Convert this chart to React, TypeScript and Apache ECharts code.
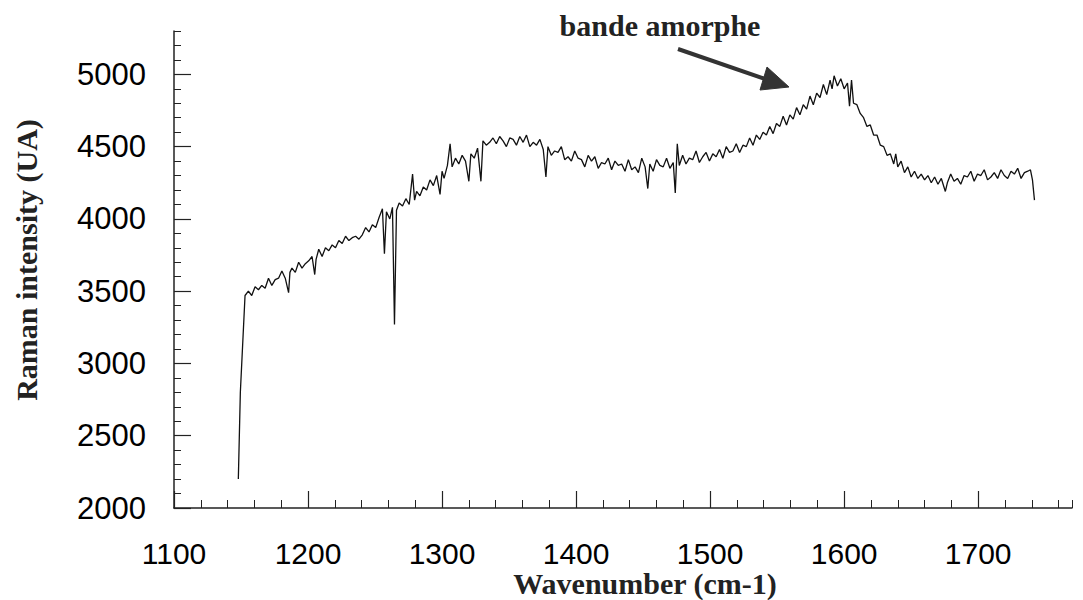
import React, { useEffect, useRef } from "react";
import * as echarts from "echarts";

// Raman spectrum: [wavenumber (cm-1), intensity (UA)]
const spectrum: number[][] = [
  [1148, 2200], [1149.5, 2800], [1153, 3470], [1155.5, 3500], [1158, 3470], [1160.5, 3530],
  [1163, 3510], [1165.5, 3540], [1168, 3520], [1170.5, 3590], [1173, 3540], [1175.5, 3580],
  [1178, 3590], [1180.5, 3640], [1183, 3590], [1185.5, 3490], [1186.5, 3630], [1188, 3660],
  [1190.5, 3630], [1193, 3700], [1195.5, 3660], [1198, 3690], [1200.5, 3710], [1203, 3740],
  [1205, 3615], [1206, 3720], [1208, 3790], [1210.5, 3740], [1213, 3800], [1215.5, 3780],
  [1218, 3820], [1220.5, 3800], [1223, 3850], [1225.5, 3830], [1228, 3880], [1230.5, 3850],
  [1233, 3870], [1235.5, 3880], [1238, 3860], [1240.5, 3890], [1243, 3940], [1245.5, 3910],
  [1248, 3960], [1250.5, 3940], [1253, 4010], [1255.5, 4070], [1257, 3760], [1258.5, 4050],
  [1261, 4000], [1263, 4080], [1264.5, 3270], [1266, 4060], [1268, 4110], [1270.5, 4090],
  [1273, 4140], [1275.5, 4100], [1278, 4310], [1279.5, 4130], [1281, 4190], [1283.5, 4160],
  [1286, 4220], [1288.5, 4200], [1291, 4270], [1293.5, 4230], [1296, 4300], [1298.5, 4170],
  [1300, 4330], [1301.5, 4280], [1304, 4370], [1306, 4520], [1307.5, 4360], [1310, 4420],
  [1312.5, 4380], [1315, 4440], [1317.5, 4400], [1320, 4260], [1321.5, 4450], [1324, 4420],
  [1326.5, 4490], [1329, 4260], [1330.5, 4540], [1333, 4510], [1335.5, 4530], [1338, 4560],
  [1340.5, 4520], [1343, 4570], [1345.5, 4540], [1348, 4500], [1350.5, 4560], [1353, 4550],
  [1355.5, 4510], [1358, 4570], [1360.5, 4530], [1363, 4580], [1365.5, 4500], [1368, 4530],
  [1370.5, 4510], [1373, 4550], [1375.5, 4480], [1377.5, 4290], [1379, 4500], [1381.5, 4440],
  [1384, 4470], [1386.5, 4460], [1389, 4500], [1391.5, 4410], [1394, 4430], [1396.5, 4400],
  [1399, 4470], [1401.5, 4420], [1404, 4410], [1406.5, 4360], [1409, 4440], [1411.5, 4400],
  [1414, 4430], [1416.5, 4350], [1419, 4390], [1421.5, 4380], [1424, 4420], [1426.5, 4340],
  [1429, 4400], [1431.5, 4370], [1434, 4380], [1436.5, 4330], [1439, 4410], [1441.5, 4340],
  [1444, 4360], [1446.5, 4320], [1449, 4420], [1451.5, 4360], [1453.5, 4210], [1455, 4380],
  [1457.5, 4330], [1460, 4410], [1462.5, 4370], [1465, 4360], [1467.5, 4420], [1470, 4350],
  [1472.5, 4390], [1474, 4180], [1475.5, 4520], [1477, 4370], [1479.5, 4440], [1482, 4380],
  [1484.5, 4420], [1487, 4410], [1489.5, 4470], [1492, 4390], [1494.5, 4430], [1497, 4460],
  [1499.5, 4400], [1502, 4450], [1504.5, 4430], [1507, 4480], [1509.5, 4420], [1512, 4500],
  [1514.5, 4460], [1517, 4470], [1519.5, 4520], [1522, 4460], [1524.5, 4510], [1527, 4500],
  [1529.5, 4560], [1532, 4510], [1534.5, 4580], [1537, 4550], [1539.5, 4600], [1542, 4580],
  [1544.5, 4640], [1547, 4590], [1549.5, 4660], [1552, 4640], [1554.5, 4710], [1557, 4650],
  [1559.5, 4720], [1562, 4690], [1564.5, 4770], [1567, 4720], [1569.5, 4790], [1572, 4760],
  [1574.5, 4850], [1577, 4790], [1579.5, 4870], [1582, 4840], [1584.5, 4930], [1587, 4860],
  [1589.5, 4960], [1591, 4900], [1592.5, 4990], [1595, 4920], [1597.5, 4970], [1600, 4900],
  [1602.5, 4940], [1604, 4780], [1605.5, 4960], [1607, 4800], [1609.5, 4790], [1612, 4730],
  [1614.5, 4700], [1617, 4640], [1619.5, 4650], [1622, 4580], [1624.5, 4580], [1627, 4510],
  [1629.5, 4500], [1632, 4440], [1634.5, 4450], [1637, 4380], [1638.5, 4450], [1640, 4360],
  [1642.5, 4400], [1645, 4320], [1647.5, 4360], [1650, 4290], [1652.5, 4330], [1655, 4280],
  [1657.5, 4310], [1660, 4270], [1662.5, 4300], [1665, 4250], [1667.5, 4290], [1670, 4240],
  [1672.5, 4280], [1675.5, 4190], [1677, 4250], [1679.5, 4310], [1682, 4260], [1684.5, 4280],
  [1687, 4240], [1689.5, 4300], [1692, 4290], [1694.5, 4330], [1697, 4260], [1699.5, 4310],
  [1702, 4300], [1704.5, 4340], [1707, 4270], [1709.5, 4290], [1712, 4320], [1714.5, 4280],
  [1717, 4340], [1719.5, 4300], [1722, 4280], [1724.5, 4330], [1727, 4310], [1729.5, 4350],
  [1732, 4280], [1734.5, 4320], [1737, 4330], [1739, 4340], [1740.5, 4270], [1742, 4130],
];

const xMajorTicks = [1100, 1200, 1300, 1400, 1500, 1600, 1700];
const yMajorTicks = [2000, 2500, 3000, 3500, 4000, 4500, 5000];

const xTitle = "Wavenumber (cm-1)";
const yTitle = "Raman intensity (UA)";
const annotation = "bande amorphe";

const X_MIN = 1100;
const X_MAX = 1770;
const Y_MIN = 2000;
const Y_MAX = 5300;

export default function App() {
  const ref = useRef<HTMLDivElement>(null);

  useEffect(() => {
    document.body.style.margin = "0";
    const chart = echarts.init(ref.current!, null, { renderer: "svg" });
    const axisLineStyle = { color: "#222", width: 1.5 };
    const serif = "'Liberation Serif', 'Times New Roman', serif";
    const sans = "'Liberation Sans', Arial, sans-serif";

    chart.setOption({
      animation: false,
      backgroundColor: "#fff",
      grid: { left: 174, right: 11, top: 31, bottom: 92, containLabel: false },
      xAxis: [
        {
          type: "value",
          min: X_MIN,
          max: X_MAX,
          interval: 20,
          axisLine: { show: true, onZero: false, lineStyle: axisLineStyle },
          axisTick: { show: true, inside: true, length: 8, lineStyle: { color: "#222", width: 1 } },
          axisLabel: {
            color: "#000",
            fontSize: 30,
            fontFamily: sans,
            margin: 30,
            formatter: (v: number) => (xMajorTicks.includes(v) ? String(v) : ""),
          },
          splitLine: { show: false },
        },
        {
          type: "value",
          position: "bottom",
          min: X_MIN,
          max: X_MAX,
          axisLine: { show: false, onZero: false },
          axisTick: {
            show: true,
            inside: true,
            length: 17,
            customValues: xMajorTicks,
            lineStyle: { color: "#222", width: 1.2 },
          },
          axisLabel: { show: false },
          splitLine: { show: false },
        },
      ],
      yAxis: [
        {
          type: "value",
          min: Y_MIN,
          max: Y_MAX,
          interval: 100,
          axisLine: { show: true, onZero: false, lineStyle: axisLineStyle },
          axisTick: { show: true, inside: true, length: 7, lineStyle: { color: "#222", width: 1 } },
          axisLabel: {
            color: "#000",
            fontSize: 31,
            fontFamily: sans,
            margin: 28,
            formatter: (v: number) => (yMajorTicks.includes(v) ? String(v) : ""),
          },
          splitLine: { show: false },
        },
        {
          type: "value",
          position: "left",
          min: Y_MIN,
          max: Y_MAX,
          axisLine: { show: false, onZero: false },
          axisTick: {
            show: true,
            inside: true,
            length: 17,
            customValues: yMajorTicks,
            lineStyle: { color: "#222", width: 1.2 },
          },
          axisLabel: { show: false },
          splitLine: { show: false },
        },
      ],
      series: [
        {
          type: "line",
          xAxisIndex: 0,
          yAxisIndex: 0,
          data: spectrum,
          showSymbol: false,
          symbol: "none",
          lineStyle: { color: "#111", width: 1.3 },
        },
      ],
      graphic: [
        {
          type: "text",
          x: 645,
          y: 583,
          style: {
            text: xTitle,
            x: 0,
            y: 0,
            align: "center",
            verticalAlign: "middle",
            fontFamily: serif,
            fontWeight: "bold",
            fontSize: 30,
            fill: "#222",
          },
        },
        {
          type: "text",
          x: 26,
          y: 260,
          rotation: Math.PI / 2,
          style: {
            text: yTitle,
            x: 0,
            y: 0,
            align: "center",
            verticalAlign: "middle",
            fontFamily: serif,
            fontWeight: "bold",
            fontSize: 30,
            fill: "#222",
          },
        },
        {
          type: "text",
          x: 660,
          y: 25,
          style: {
            text: annotation,
            x: 0,
            y: 0,
            align: "center",
            verticalAlign: "middle",
            fontFamily: serif,
            fontWeight: "bold",
            fontSize: 30,
            fill: "#222",
          },
        },
        {
          type: "line",
          shape: { x1: 678, y1: 49, x2: 768, y2: 80 },
          style: { stroke: "#333", lineWidth: 4 },
        },
        {
          type: "polygon",
          shape: { points: [[789, 87], [767, 67], [760, 90]] },
          style: { fill: "#333", stroke: "#333", lineWidth: 1 },
        },
      ],
    });

    return () => chart.dispose();
  }, []);

  return <div ref={ref} style={{ width: 1083, height: 600 }} />;
}
